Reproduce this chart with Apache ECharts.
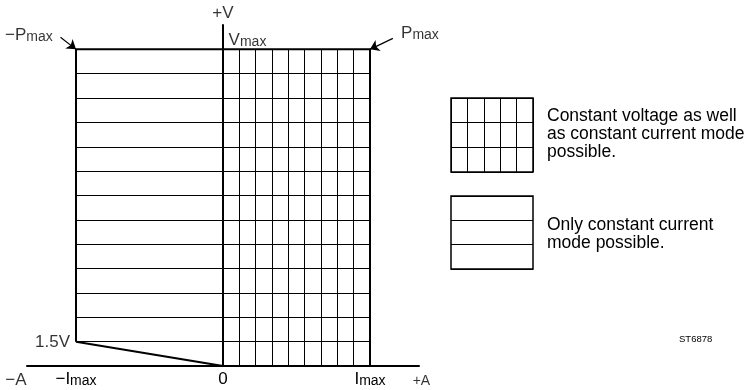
<!DOCTYPE html>
<html>
<head>
<meta charset="utf-8">
<script src="https://cdn.jsdelivr.net/npm/echarts@6/dist/echarts.min.js"></script>
<style>
  html, body { margin: 0; padding: 0; background: #fff; }
  #chart { width: 750px; height: 390px; }
</style>
</head>
<body>
<div id="chart"></div>
<script>
var FONT = '"Liberation Sans", Arial, sans-serif';

// grid units: current -Imax..Imax = -9..9, voltage 0..Vmax = 0..13 (1 = 1.5V)
var iMax = 9;
var vMax = 13;
var voltageLevels = [1, 2, 3, 4, 5, 6, 7, 8, 9, 10, 11, 12, 13];
var currentLevels = [1, 2, 3, 4, 5, 6, 7, 8];
var outline = [[-9, 1], [-9, 13], [9, 13], [9, 0]];
var diagonal = [[-9, 1], [0, 0]];
var pmaxArrows = [[[-9.95, 13.5], [-9, 13]], [[10.4, 13.45], [9, 13]]];

// legend swatches: columns x rows
var cvCols = 5, cvRows = 3;
var ccCols = 1, ccRows = 3;

var chart = echarts.init(document.getElementById('chart'));

var hLines = voltageLevels.map(v => ({ coords: [[-iMax, v], [iMax, v]] }));
var vLines = currentLevels.map(i => ({ coords: [[i, 0], [i, vMax]] }));

var rich = {
  b: { fontSize: 17, fontFamily: FONT, color: '#000', lineHeight: 17 },
  s: { fontSize: 14, fontFamily: FONT, color: '#000', lineHeight: 14, verticalAlign: 'bottom' },
  a: { fontSize: 14, fontFamily: FONT, color: '#000' }
};

function axisName(v) {
  if (v === -iMax) return '{b|\u2212I}{s|max}';
  if (v === 0) return '{b|0}';
  if (v === iMax) return '{b|I}{s|max}';
  return '';
}

var annotations = [
  { value: [-11.88, 13.58], label: { formatter: '{b|\u2212P}{s|max}' } },
  { value: [12.06, 13.66], label: { formatter: '{b|P}{s|max}' } },
  { value: [0, 14.46], label: { formatter: '{b|+V}' } },
  { value: [1.5, 13.37], label: { formatter: '{b|V}{s|max}' } },
  { value: [-10.44, 0.98], label: { formatter: '{b|1.5V}' } },
  { value: [-12.68, -0.57], label: { formatter: '{b|\u2212A}' } },
  { value: [12.15, -0.62], label: { formatter: '{a|+A}' } }
];

function hiddenAxis(extra) {
  return Object.assign({
    type: 'value',
    axisLine: { show: false },
    axisTick: { show: false },
    axisLabel: { show: false },
    splitLine: { show: false }
  }, extra);
}

chart.setOption({
  animation: false,
  backgroundColor: '#fff',
  grid: [
    { left: 27, right: 331, top: 25, bottom: 24 },
    { left: 451, top: 98, width: 82, height: 74, show: true, borderColor: '#000', borderWidth: 1.5 },
    { left: 451, top: 196, width: 82, height: 73, show: true, borderColor: '#000', borderWidth: 1.5 }
  ],
  xAxis: [{
    type: 'value',
    min: -12,
    max: 12,
    interval: 3,
    axisLine: { onZero: true, lineStyle: { color: '#000', width: 2 } },
    axisTick: { show: false },
    splitLine: { show: false },
    axisLabel: { margin: 5, formatter: axisName, rich: rich, showMinLabel: true, showMaxLabel: true }
  },
  hiddenAxis({ gridIndex: 1, min: 0, max: cvCols, interval: 1,
    splitLine: { show: true, lineStyle: { color: '#000', width: 1 } } }),
  hiddenAxis({ gridIndex: 2, min: 0, max: ccCols, interval: 1 })
  ],
  yAxis: [{
    type: 'value',
    min: 0,
    max: 14,
    axisLine: { show: true, onZero: true, lineStyle: { color: '#000', width: 2 } },
    axisTick: { show: false },
    axisLabel: { show: false },
    splitLine: { show: false }
  },
  hiddenAxis({ gridIndex: 1, min: 0, max: cvRows, interval: 1,
    splitLine: { show: true, lineStyle: { color: '#000', width: 1 } } }),
  hiddenAxis({ gridIndex: 2, min: 0, max: ccRows, interval: 1,
    splitLine: { show: true, lineStyle: { color: '#000', width: 1 } } })
  ],
  graphic: [
    {
      type: 'text', left: 547, top: 107,
      style: { text: 'Constant voltage as well\nas constant current mode\npossible.',
        font: '17.5px ' + FONT, lineHeight: 18, fill: '#000' }
    },
    {
      type: 'text', left: 547, top: 216,
      style: { text: 'Only constant current\nmode possible.',
        font: '17.5px ' + FONT, lineHeight: 18, fill: '#000' }
    },
    {
      type: 'text', left: 679, top: 334,
      style: { text: 'ST6878', font: '9.5px ' + FONT, fill: '#000' }
    }
  ],
  series: [
    {
      type: 'lines', coordinateSystem: 'cartesian2d', silent: true,
      lineStyle: { color: '#000', width: 1, opacity: 1 },
      data: hLines.concat(vLines)
    },
    {
      type: 'lines', coordinateSystem: 'cartesian2d', polyline: true, silent: true,
      lineStyle: { color: '#000', width: 2, opacity: 1 },
      data: [{ coords: outline }, { coords: diagonal }]
    },
    {
      type: 'lines', coordinateSystem: 'cartesian2d', silent: true,
      symbol: ['none', 'arrow'], symbolSize: 9,
      lineStyle: { color: '#000', width: 1.2, opacity: 1 },
      data: pmaxArrows.map(c => ({ coords: c }))
    },
    {
      type: 'scatter', silent: true, clip: false,
      symbolSize: 1, itemStyle: { color: 'transparent' },
      label: { show: true, position: 'inside', rich: rich },
      data: annotations
    }
  ]
});
</script>
</body>
</html>
